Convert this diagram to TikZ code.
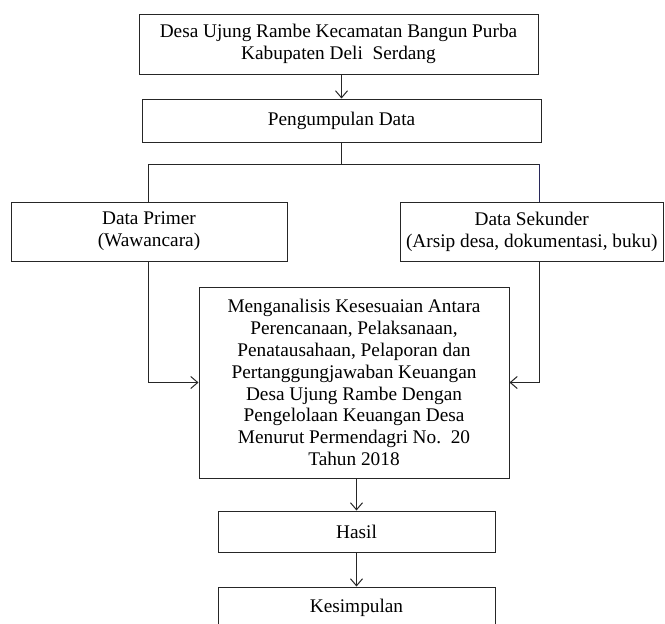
\documentclass[tikz,border=0pt]{standalone}
\usepackage{fontspec}
\setmainfont{Liberation Serif}
\usetikzlibrary{arrows.meta}
\begin{document}
\begin{tikzpicture}[x=1pt,y=-1pt,
  every node/.style={font=\fontsize{19.3}{21.8}\selectfont},
  box/.style={draw=black!85, line width=1pt, inner sep=0pt, align=center},
  link/.style={draw=black!85, line width=1pt},
  arr/.style={link, -{Straight Barb[length=7pt,width=12pt,line width=1pt]}}]
\useasboundingbox (0,0) rectangle (665,624);
\clip (0,0) rectangle (665,624);
\fill[white] (0,0) rectangle (665,624);
\frenchspacing
\node[box, minimum width=399pt, minimum height=60pt] (b1) at (338.5,44)
  {Desa Ujung Rambe Kecamatan Bangun Purba\\Kabupaten Deli~~Serdang};
\node[box, minimum width=399pt, minimum height=43pt] (b2) at (341.5,120.5)
  {Pengumpulan Data};
\node[box, minimum width=276pt, minimum height=59pt] (prim) at (149,231.5)
  {Data Primer\\(Wawancara)};
\node[box, minimum width=263.5pt, minimum height=59pt] (sek) at (531.75,231.5)
  {Data Sekunder\\(Arsip desa, dokumentasi, buku)};
\node[box, minimum width=310pt, minimum height=191pt] (main) at (354,382.5)
  {Menganalisis Kesesuaian Antara\\Perencanaan, Pelaksanaan,\\Penatausahaan, Pelaporan dan\\Pertanggungjawaban Keuangan\\Desa Ujung Rambe Dengan\\Pengelolaan Keuangan Desa\\Menurut Permendagri No.~~20\\Tahun 2018};
\node[box, minimum width=277pt, minimum height=41pt] (hasil) at (356.5,531.5)
  {Hasil};
\node[box, minimum width=277pt, minimum height=42pt] (kes) at (356.5,608)
  {Kesimpulan};
\coordinate (jl) at (148,164);
\coordinate (jr) at (539,164);
\draw[arr] (b1.south -| b2.north) -- (b2.north);
\draw[link] (b2.south) -- (b2.south |- jl);
\draw[link] (jl |- prim.north) -- (jl) -- (jr);
\draw[link, draw={rgb,255:red,40;green,40;blue,90}] (jr) -- (jr |- sek.north);
\draw[arr] (jl |- prim.south) -- (jl |- main.west) -- (main.west);
\draw[arr] (jr |- sek.south) -- (jr |- main.east) -- (main.east);
\draw[arr] (main.south -| hasil.north) -- (hasil.north);
\draw[arr] (hasil.south) -- (kes.north);
\end{tikzpicture}
\end{document}
